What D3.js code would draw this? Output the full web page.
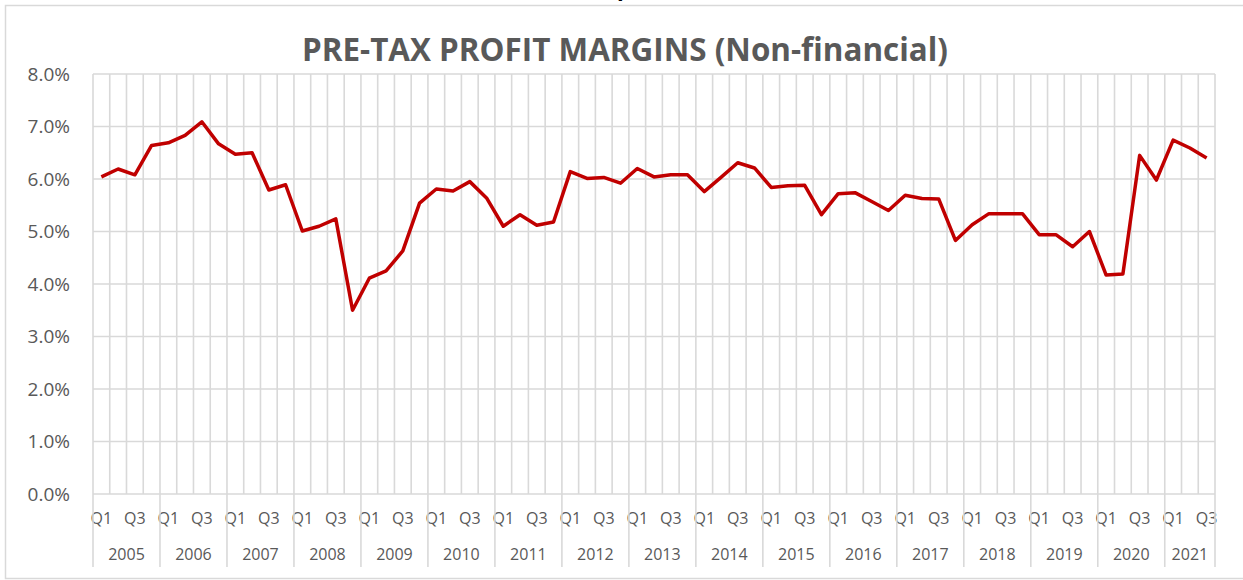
<!DOCTYPE html>
<html>
<head>
<meta charset="utf-8">
<script src="https://cdn.jsdelivr.net/npm/d3@7"></script>
<style>
  body { margin: 0; background: #fff; }
  text { font-family: "Open Sans", sans-serif; fill: #595959; }
</style>
</head>
<body>
<div id="chart-area"></div>
<script>

// Data (% of sales)
var years = ["2005", "2006", "2007", "2008", "2009", "2010", "2011", "2012",
             "2013", "2014", "2015", "2016", "2017", "2018", "2019", "2020", "2021"];
var quarters = ["Q1", "Q2", "Q3", "Q4"];
var shownQuarters = ["Q1", "Q3"];
var yTicks = [0, 1, 2, 3, 4, 5, 6, 7, 8];
var margins = [
    6.04, 6.19, 6.08, 6.64, 6.69, 6.83, 7.09, 6.67,   // 2005-2006
    6.47, 6.50, 5.79, 5.89, 5.01, 5.10, 5.24, 3.50,   // 2007-2008
    4.11, 4.25, 4.63, 5.54, 5.81, 5.77, 5.95, 5.64,   // 2009-2010
    5.10, 5.32, 5.12, 5.18, 6.14, 6.01, 6.03, 5.92,   // 2011-2012
    6.20, 6.04, 6.08, 6.08, 5.76, 6.03, 6.31, 6.21,   // 2013-2014
    5.84, 5.87, 5.88, 5.32, 5.72, 5.74, 5.57, 5.40,   // 2015-2016
    5.69, 5.63, 5.62, 4.83, 5.13, 5.34, 5.34, 5.34,   // 2017-2018
    4.94, 4.94, 4.71, 5.00, 4.17, 4.19, 6.45, 5.98,   // 2019-2020
    6.74, 6.59, 6.40                                  // 2021 Q1-Q3
];
var title = "PRE-TAX PROFIT MARGINS (Non-financial)";

// build categories
var data = margins.map(function(v, i) {
    return {
        index: i,
        year: years[Math.floor(i / 4)],
        quarter: quarters[i % 4],
        value: v
    };
});

// SVG drawing area
var margin = {top: 74, right: 28, bottom: 86, left: 93};
var width = 1243 - margin.left - margin.right,
    height = 580 - margin.top - margin.bottom;

var root = d3.select("#chart-area").append("svg")
    .attr("width", 1243)
    .attr("height", 580);

// chart border
root.append("rect")
    .attr("x", 5.5).attr("y", 5.5)
    .attr("width", 1250).attr("height", 573)
    .attr("fill", "none")
    .attr("stroke", "#d9d9d9")
    .attr("stroke-width", 1.5);

// cut-off text from above the chart (only its descender shows, as in the source)
root.append("text")
    .attr("x", 617).attr("y", -4)
    .style("font-size", "22px")
    .style("font-weight", "bold")
    .style("fill", "#000")
    .text("p");

root.append("text")
    .attr("x", 625)
    .attr("y", 61)
    .attr("text-anchor", "middle")
    .attr("textLength", 646)
    .attr("lengthAdjust", "spacingAndGlyphs")
    .style("font-size", "32px")
    .style("font-weight", "bold")
    .text(title);

var svg = root.append("g")
    .attr("transform", "translate(" + margin.left + "," + margin.top + ")");

// Scales
var x = d3.scaleBand()
    .domain(data.map(function(d) { return d.index; }))
    .range([0, width])
    .padding(0);

var y = d3.scaleLinear()
    .domain([0, 8])
    .range([height, 0]);

// Gridlines
svg.selectAll(".hgrid")
    .data(yTicks)
    .enter().append("line")
    .attr("class", "hgrid")
    .attr("x1", 0).attr("x2", width)
    .attr("y1", function(d) { return y(d); })
    .attr("y2", function(d) { return y(d); })
    .attr("stroke", "#d9d9d9")
    .attr("stroke-width", 1.6);

var bounds = data.map(function(d) { return x(d.index); }).concat([width]);
svg.selectAll(".vgrid")
    .data(bounds)
    .enter().append("line")
    .attr("class", "vgrid")
    .attr("x1", function(d) { return d; })
    .attr("x2", function(d) { return d; })
    .attr("y1", 0).attr("y2", height)
    .attr("stroke", "#d9d9d9")
    .attr("stroke-width", 1.6);

// Y axis labels
var yAxis = d3.axisLeft(y)
    .tickValues(yTicks)
    .tickSize(0)
    .tickPadding(23)
    .tickFormat(function(d) { return d3.format(".1f")(d) + "%"; });

svg.append("g")
    .attr("class", "axis y-axis")
    .call(yAxis)
    .call(function(g) { g.select(".domain").remove(); })
    .selectAll("text")
    .style("font-size", "19px")
    .style("fill", "#595959")
    .style("font-family", "'Open Sans', sans-serif");

// X axis: quarter labels
svg.selectAll(".qlabel")
    .data(data.filter(function(d) { return shownQuarters.indexOf(d.quarter) >= 0; }))
    .enter().append("text")
    .attr("class", "qlabel")
    .attr("x", function(d) { return x(d.index) + x.bandwidth() / 2; })
    .attr("y", height + 24)
    .attr("dy", "0.35em")
    .attr("text-anchor", "middle")
    .style("font-size", "16px")
    .text(function(d) { return d.quarter; });

// X axis: year groups
var groups = years.map(function(yr) {
    var items = data.filter(function(d) { return d.year === yr; });
    var x0 = x(items[0].index);
    var x1 = x(items[items.length - 1].index) + x.bandwidth();
    return {year: yr, x0: x0, x1: x1};
});

svg.selectAll(".ylabel")
    .data(groups)
    .enter().append("text")
    .attr("class", "ylabel")
    .attr("x", function(d) { return (d.x0 + d.x1) / 2; })
    .attr("y", height + 60)
    .attr("dy", "0.35em")
    .attr("text-anchor", "middle")
    .style("font-size", "16px")
    .text(function(d) { return d.year; });

var seps = groups.map(function(d) { return d.x0; }).concat([width]);
svg.selectAll(".sep")
    .data(seps)
    .enter().append("line")
    .attr("class", "sep")
    .attr("x1", function(d) { return d; })
    .attr("x2", function(d) { return d; })
    .attr("y1", height).attr("y2", height + 73)
    .attr("stroke", "#d9d9d9")
    .attr("stroke-width", 1.6);

// Line
var line = d3.line()
    .x(function(d) { return x(d.index) + x.bandwidth() / 2; })
    .y(function(d) { return y(d.value); });

svg.append("path")
    .datum(data)
    .attr("class", "line")
    .attr("d", line)
    .attr("fill", "none")
    .attr("stroke", "#c00000")
    .attr("stroke-width", 3.5)
    .attr("stroke-linejoin", "round");

</script>
</body>
</html>
